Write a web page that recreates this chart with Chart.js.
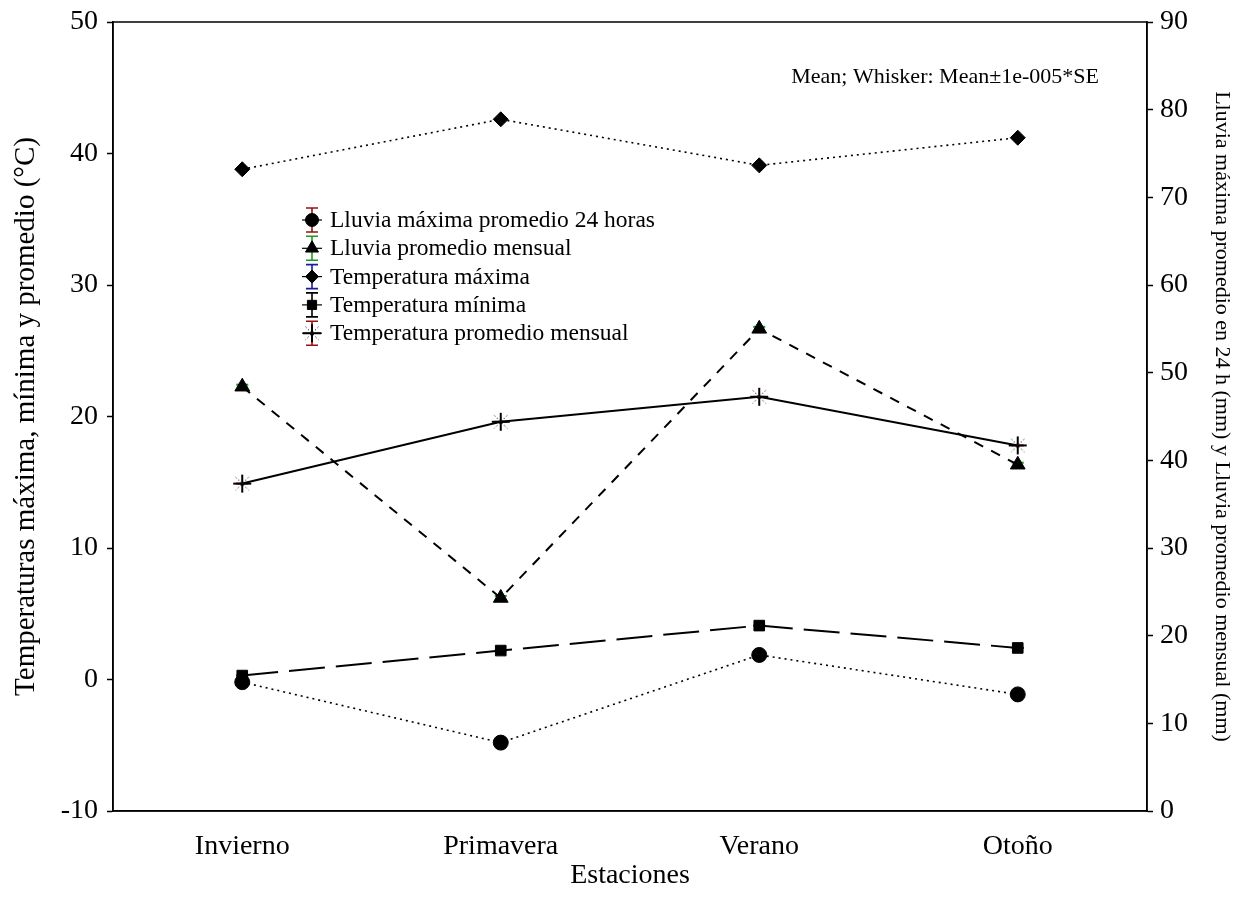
<!DOCTYPE html>
<html>
<head>
<meta charset="utf-8">
<script src="https://cdn.jsdelivr.net/npm/chart.js@4.4.1/dist/chart.umd.min.js"></script>
<style>
  html, body { margin: 0; padding: 0; background: #fff; }
  #wrap { width: 1239px; height: 909px; }
</style>
</head>
<body>
<div id="wrap"><canvas id="c" width="1239" height="909"></canvas></div>
<script>
// Seasons on the x axis
const estaciones = ['Invierno', 'Primavera', 'Verano', 'Otoño'];

// Rainfall series (mm), right axis
const lluviaMax24h = [14.7, 7.8, 17.8, 13.3];
const lluviaMensual = [48.4, 24.3, 55.0, 39.5];

// Temperature series (°C), left axis
const tempMaxima = [38.8, 42.6, 39.1, 41.2];
const tempMinima = [0.3, 2.2, 4.1, 2.4];
const tempPromedio = [14.9, 19.6, 21.5, 17.8];

// Axis ranges and tick steps
const tempRange = [-10, 50];
const tempStep = 10;
const lluviaRange = [0, 90];
const lluviaStep = 10;

const serif = 'Liberation Serif';
const darkRed = '#9b1010';
const green = '#1f9a1f';
const navy = '#1a1a9a';

// Asterisk marker: solid cross with dotted diagonals
function makeAsterisk(size) {
  const cv = document.createElement('canvas');
  cv.width = size; cv.height = size;
  const g = cv.getContext('2d');
  const c = size / 2, r = size / 2 - 1, d = r * 0.72;
  g.strokeStyle = '#000';
  g.lineWidth = 2;
  g.beginPath();
  g.moveTo(c - r, c); g.lineTo(c + r, c);
  g.moveTo(c, c - r); g.lineTo(c, c + r);
  g.stroke();
  g.lineWidth = 1;
  g.strokeStyle = '#333';
  g.setLineDash([1.5, 2]);
  g.beginPath();
  g.moveTo(c - d, c - d); g.lineTo(c + d, c + d);
  g.moveTo(c + d, c - d); g.lineTo(c - d, c + d);
  g.stroke();
  return cv;
}
const asterisk = makeAsterisk(20);

const seriesDefs = [
  { label: 'Lluvia máxima promedio 24 horas', data: lluviaMax24h, axis: 'y1', style: 'circle', radius: 7.5, dash: [2, 4], width: 1.6, whisker: darkRed },
  { label: 'Lluvia promedio mensual', data: lluviaMensual, axis: 'y1', style: 'triangle', radius: 8.5, dash: [10, 9], width: 2, whisker: green },
  { label: 'Temperatura máxima', data: tempMaxima, axis: 'y', style: 'rectRot', radius: 7.5, dash: [2, 4], width: 1.6, whisker: navy },
  { label: 'Temperatura mínima', data: tempMinima, axis: 'y', style: 'rect', radius: 7.5, dash: [36, 11], width: 2, whisker: '#000' },
  { label: 'Temperatura promedio mensual', data: tempPromedio, axis: 'y', style: asterisk, radius: 9, dash: [], width: 2, whisker: darkRed }
];

const datasets = seriesDefs.map(s => ({
  label: s.label,
  data: s.data,
  yAxisID: s.axis,
  borderColor: '#000',
  borderWidth: s.width,
  borderDash: s.dash,
  backgroundColor: '#000',
  pointStyle: s.style,
  pointRadius: s.radius,
  pointHoverRadius: s.radius,
  pointBackgroundColor: '#000',
  pointBorderColor: '#000',
  pointBorderWidth: 1,
  tension: 0,
  fill: false,
  whiskerColor: s.whisker
}));

// Tiny error whiskers (collapsed caps) drawn behind each marker
const whiskerPlugin = {
  id: 'whiskers',
  beforeDatasetsDraw(chart) {
    const ctx = chart.ctx;
    chart.data.datasets.forEach((ds, i) => {
      const meta = chart.getDatasetMeta(i);
      const lift = ds.pointStyle === 'triangle' ? 2 : 0;
      ctx.save();
      ctx.strokeStyle = ds.whiskerColor;
      ctx.lineWidth = 2;
      meta.data.forEach(pt => {
        ctx.beginPath();
        ctx.moveTo(pt.x - 6, pt.y - lift);
        ctx.lineTo(pt.x + 6, pt.y - lift);
        ctx.stroke();
      });
      ctx.restore();
    });
  }
};

// Frame around the plotting area
const framePlugin = {
  id: 'frame',
  afterDraw(chart) {
    const { ctx, chartArea: a } = chart;
    ctx.save();
    ctx.strokeStyle = '#000';
    ctx.lineWidth = 1.5;
    ctx.strokeRect(a.left, a.top, a.right - a.left, a.bottom - a.top);
    ctx.restore();
  }
};

// Legend with whisker symbols, plus the statistics note
const legendPlugin = {
  id: 'customLegend',
  afterDraw(chart) {
    const { ctx, chartArea: a } = chart;
    const x0 = a.left + 199;
    const y0 = a.top + 198;
    const gap = 28.3;
    ctx.save();
    chart.data.datasets.forEach((ds, i) => {
      const y = y0 + i * gap;
      // whisker
      ctx.strokeStyle = ds.whiskerColor;
      ctx.lineWidth = 1.6;
      ctx.setLineDash([]);
      ctx.beginPath();
      ctx.moveTo(x0, y - 12); ctx.lineTo(x0, y + 12);
      ctx.moveTo(x0 - 6, y - 12); ctx.lineTo(x0 + 6, y - 12);
      ctx.moveTo(x0 - 6, y + 12); ctx.lineTo(x0 + 6, y + 12);
      ctx.stroke();
      // line sample
      ctx.strokeStyle = '#000';
      ctx.lineWidth = 1.2;
      ctx.beginPath();
      ctx.moveTo(x0 - 10, y); ctx.lineTo(x0 + 10, y);
      ctx.stroke();
      // marker
      ctx.fillStyle = '#000';
      ctx.strokeStyle = '#000';
      ctx.lineWidth = 1;
      Chart.helpers.drawPoint(ctx, { pointStyle: ds.pointStyle, radius: ds.pointRadius - 1, borderWidth: 1 }, x0, y);
      // text
      ctx.fillStyle = '#000';
      ctx.font = '23.5px "' + serif + '"';
      ctx.textBaseline = 'middle';
      ctx.textAlign = 'left';
      ctx.fillText(ds.label, x0 + 18, y + 1);
    });
    ctx.font = '22px "' + serif + '"';
    ctx.textAlign = 'right';
    ctx.textBaseline = 'middle';
    ctx.fillText('Mean; Whisker: Mean±1e-005*SE', a.left + 986, a.top + 55);
    ctx.restore();
  }
};

new Chart(document.getElementById('c'), {
  type: 'line',
  data: { labels: estaciones, datasets },
  options: {
    responsive: false,
    animation: false,
    devicePixelRatio: 1,
    layout: { padding: { top: 22, left: 0, right: 0, bottom: 0 } },
    plugins: { legend: { display: false }, tooltip: { enabled: false } },
    scales: {
      x: {
        type: 'category',
        offset: true,
        grid: { display: false, drawOnChartArea: false },
        border: { display: true, color: '#000', width: 1.5 },
        ticks: { color: '#000', font: { family: serif, size: 28 }, padding: 11 },
        title: { display: true, text: 'Estaciones', color: '#000', font: { family: serif, size: 28 }, padding: { top: 0, bottom: 17 } },
        afterFit(scale) { scale.height = 98; }
      },
      y: {
        position: 'left',
        min: tempRange[0], max: tempRange[1],
        grid: { drawOnChartArea: false, drawTicks: true, tickLength: 6, color: '#000', tickWidth: 1.5 },
        border: { display: true, color: '#000', width: 1.5 },
        ticks: { stepSize: tempStep, color: '#000', font: { family: serif, size: 28, lineHeight: 0.9 }, padding: 9 },
        title: { display: true, text: 'Temperaturas máxima, mínima y promedio (°C)', color: '#000', font: { family: serif, size: 29 }, padding: { top: 9, bottom: 0 } },
        afterFit(scale) { scale.width = 113; }
      },
      y1: {
        position: 'right',
        min: lluviaRange[0], max: lluviaRange[1],
        grid: { drawOnChartArea: false, drawTicks: true, tickLength: 6, color: '#000', tickWidth: 1.5 },
        border: { display: true, color: '#000', width: 1.5 },
        ticks: { stepSize: lluviaStep, color: '#000', font: { family: serif, size: 28, lineHeight: 0.9 }, padding: 7 },
        title: { display: true, text: 'Lluvia máxima promedio en 24 h (mm) y Lluvia promedio mensual (mm)', color: '#000', font: { family: serif, size: 22 }, padding: { top: 4, bottom: 0 } },
        afterFit(scale) { scale.width = 92; }
      }
    }
  },
  plugins: [whiskerPlugin, framePlugin, legendPlugin]
});
</script>
</body>
</html>
